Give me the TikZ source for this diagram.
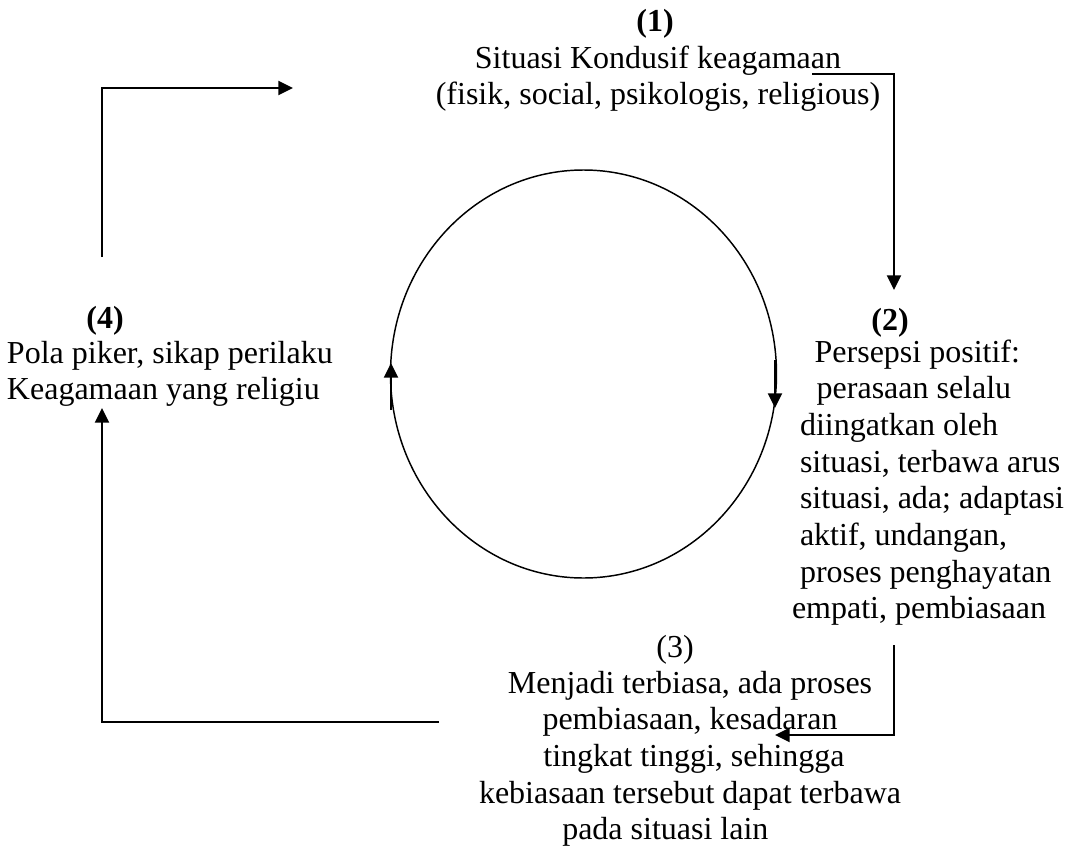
\documentclass[tikz,border=0pt]{standalone}
\usepackage{fontspec}
\setmainfont{Liberation Serif}
\usetikzlibrary{arrows.meta,shapes.geometric}
\begin{document}
\begin{tikzpicture}[x=0.75pt,y=-0.75pt,
  txt/.style={inner sep=0pt, outer sep=0pt, font=\fontsize{24}{27.5}\selectfont},
  num/.style={inner sep=0pt, outer sep=0pt, font=\fontsize{24}{27.5}\selectfont\bfseries},
  conn/.style={line width=1.5pt, -{Triangle[length=11pt,width=10.5pt]}},
  loopline/.style={line width=1.1pt},
  looparrow/.style={line width=1.5pt, -{Triangle[length=11pt,width=10.5pt]}}]
\useasboundingbox (0,0) rectangle (1066,845);

% numbers
\node[num, anchor=base] (n1) at (655,32) {(1)};
\node[num, anchor=base] (n2) at (890,330) {(2)};
\node[txt, anchor=base] (n3) at (675,657) {(3)};
\node[num, anchor=base] (n4) at (105,328) {(4)};

% text blocks
\node[txt, anchor=north, align=center] (t1) at (658,42.4)
  {\strut Situasi Kondusif keagamaan\\
   \strut(fisik, social, psikologis, religious)};
\node[txt, anchor=north west, align=left] (t2) at (792,336.4)
  {\strut\hspace*{17pt}Persepsi positif:\\
   \strut\hspace*{18.5pt}perasaan selalu\\
   \strut\hspace*{6pt}diingatkan oleh\\
   \strut\hspace*{6pt}situasi, terbawa arus\\
   \strut\hspace*{6pt}situasi, ada; adaptasi\\
   \strut\hspace*{6pt}aktif, undangan,\\
   \strut\hspace*{6pt}proses penghayatan\\
   \strut empati, pembiasaan};
\node[txt, anchor=north, align=center] (t3) at (690,667.4)
  {\strut Menjadi terbiasa, ada proses\\
   \strut pembiasaan, kesadaran\\
   \strut\hspace*{6pt}tingkat tinggi, sehingga\\
   \strut kebiasaan tersebut dapat terbawa\\
   \strut pada situasi lain\hspace*{37pt}};
\node[txt, anchor=north west, align=left] (t4) at (7,337.4)
  {\strut Pola piker, sikap perilaku\\
   \strut Keagamaan yang religiu};

% central loop
\node[draw, loopline, ellipse, minimum width=289.5pt, minimum height=306pt, inner sep=0pt] (loop) at (583.5,374) {};
\coordinate (la) at (391,410);
\coordinate (lb) at (391,363);
\coordinate (ra) at (775,360);
\coordinate (rb) at (775,408);
\draw[looparrow] (la) -- (lb);
\draw[looparrow] (ra) -- (rb);

% connectors
\coordinate (s12) at (812,74);
\coordinate (e12) at (894,290);
\draw[conn] (s12) -| (e12);

\coordinate (s23) at (894,645);
\coordinate (e23) at (775,735);
\draw[conn] (s23) |- (e23);

\coordinate (s34) at (439,722);
\coordinate (e34) at (102,408);
\draw[conn] (s34) -| (e34);

\coordinate (s41) at (102,257);
\coordinate (e41) at (293,88);
\draw[conn] (s41) |- (e41);
\end{tikzpicture}
\end{document}
